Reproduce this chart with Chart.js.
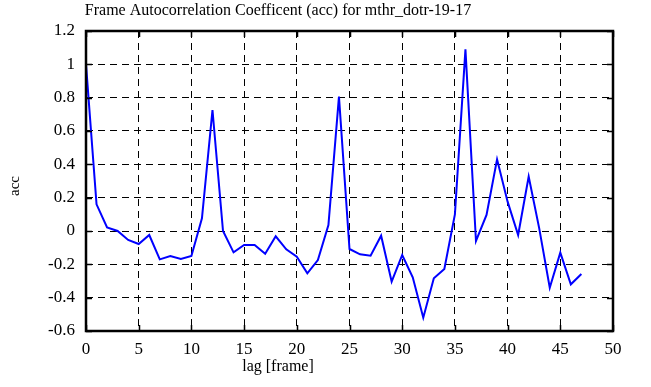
<!DOCTYPE html>
<html>
<head>
<meta charset="utf-8">
<script src="https://cdn.jsdelivr.net/npm/chart.js@4/dist/chart.umd.min.js"></script>
<style>
  html, body { margin: 0; padding: 0; background: #fff; }
  #wrap { width: 651px; height: 387px; }
</style>
</head>
<body>
<div id="wrap"><canvas id="accChart" width="651" height="387"></canvas></div>
<script>
// lag values (frames) and autocorrelation
const lags = [
    0, 1, 2, 3, 4, 5, 6, 7, 8, 9,
    10, 11, 12, 13, 14, 15, 16, 17, 18, 19,
    20, 21, 22, 23, 24, 25, 26, 27, 28, 29,
    30, 31, 32, 33, 34, 35, 36, 37, 38, 39,
    40, 41, 42, 43, 44, 45, 46, 47
];
const acc = [
    1.0, 0.16, 0.022, 0.0, -0.054, -0.078, -0.024, -0.17, -0.15, -0.168,
    -0.15, 0.076, 0.726, 0.0, -0.128, -0.084, -0.084, -0.136, -0.032, -0.11,
    -0.154, -0.254, -0.174, 0.036, 0.806, -0.108, -0.14, -0.148, -0.028, -0.304,
    -0.144, -0.278, -0.52, -0.284, -0.228, 0.1, 1.09, -0.06, 0.096, 0.43,
    0.176, -0.024, 0.326, 0.016, -0.34, -0.13, -0.32, -0.258
];
const xTicks = [0, 5, 10, 15, 20, 25, 30, 35, 40, 45, 50];
const yTicks = [-0.6, -0.4, -0.2, 0, 0.2, 0.4, 0.6, 0.8, 1, 1.2];

const titleText = "Frame Autocorrelation Coefficent (acc) for mthr_dotr-19-17";
const xLabel = "lag [frame]";
const yLabel = "acc";

const serif = "'Liberation Serif', 'DejaVu Serif', serif";

const points = lags.map((l, i) => ({ x: l, y: acc[i] }));

// frame, inward ticks and the labels (gnuplot style)
const framePlugin = {
    id: "frame",
    afterDraw(chart) {
        const ctx = chart.ctx;
        const a = chart.chartArea;
        const xs = chart.scales.x;
        const ys = chart.scales.y;
        ctx.save();
        ctx.strokeStyle = "#000";
        ctx.lineWidth = 1.5;
        ctx.setLineDash([]);
        ctx.beginPath();
        xTicks.forEach(v => {
            const px = Math.round(xs.getPixelForValue(v)) + 0.5;
            ctx.moveTo(px, a.bottom); ctx.lineTo(px, a.bottom - 6);
            ctx.moveTo(px, a.top); ctx.lineTo(px, a.top + 6);
        });
        yTicks.forEach(v => {
            const py = Math.round(ys.getPixelForValue(v)) + 0.5;
            ctx.moveTo(a.left, py); ctx.lineTo(a.left + 6, py);
            ctx.moveTo(a.right, py); ctx.lineTo(a.right - 6, py);
        });
        ctx.stroke();
        ctx.lineWidth = 2.5;
        ctx.strokeRect(a.left, a.top, a.right - a.left, a.bottom - a.top);

        ctx.fillStyle = "#000";
        ctx.textAlign = "center";
        ctx.textBaseline = "middle";
        ctx.font = "16px " + serif;
        ctx.fillText(titleText, 278, 11);
        ctx.fillText(xLabel, 278, 367);
        ctx.font = "15px " + serif;
        ctx.translate(15, 186);
        ctx.rotate(-Math.PI / 2);
        ctx.fillText(yLabel, 0, 0);
        ctx.restore();
    }
};

new Chart(document.getElementById("accChart"), {
    type: "line",
    data: {
        datasets: [{
            data: points,
            borderColor: "#0000ff",
            borderWidth: 2,
            pointRadius: 0,
            tension: 0,
            fill: false
        }]
    },
    options: {
        responsive: false,
        animation: false,
        layout: { padding: { top: 31, right: 38, bottom: 0, left: 0 } },
        plugins: {
            legend: { display: false },
            tooltip: { enabled: false },
            title: { display: false }
        },
        scales: {
            x: {
                type: "linear",
                min: 0,
                max: 50,
                afterBuildTicks: s => { s.ticks = xTicks.map(v => ({ value: v })); },
                afterFit: s => { s.height = 56; },
                ticks: {
                    color: "#000",
                    font: { family: serif, size: 17 },
                    padding: 8,
                    maxRotation: 0
                },
                grid: { color: "#000", lineWidth: 1, drawTicks: false },
                border: { display: false, dash: [7, 5] }
            },
            y: {
                min: -0.6,
                max: 1.2,
                afterBuildTicks: s => { s.ticks = yTicks.map(v => ({ value: v })); },
                afterFit: s => { s.width = 86; },
                ticks: {
                    color: "#000",
                    font: { family: serif, size: 17 },
                    padding: 11,
                    callback: v => String(Math.round(v * 10) / 10)
                },
                grid: { color: "#000", lineWidth: 1, drawTicks: false },
                border: { display: false, dash: [7, 5] }
            }
        }
    },
    plugins: [framePlugin]
});
</script>
</body>
</html>
